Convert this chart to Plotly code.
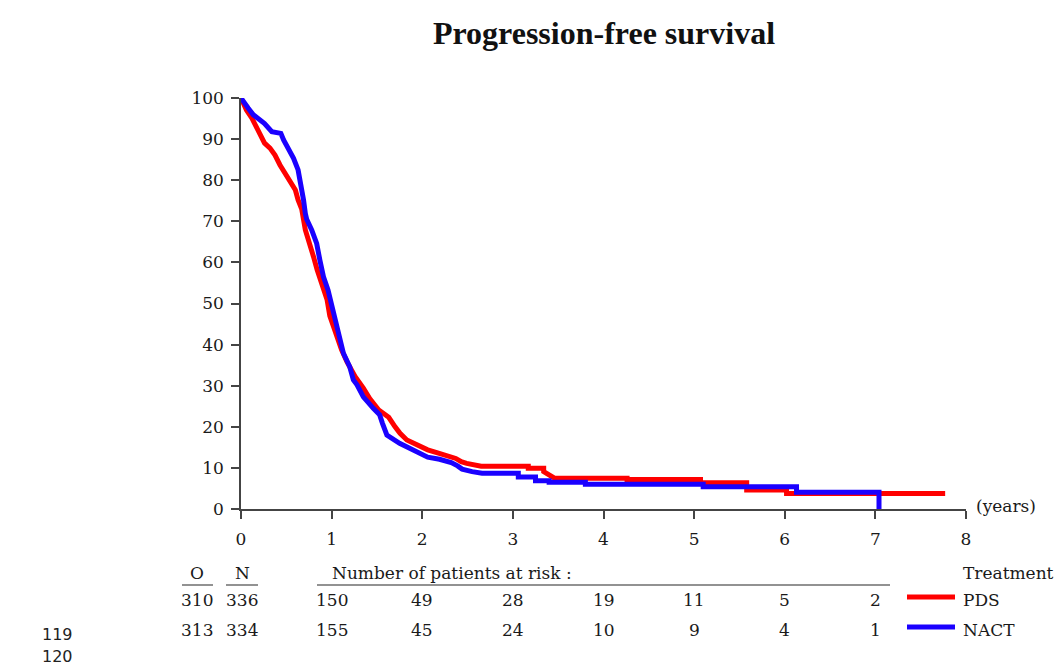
import plotly.graph_objects as go

# Survival curves as polyline vertices: time in years, % progression-free.
# Dense early drops are traced point by point; later plateaus keep both corners.
pds_time = [0, 0.03, 0.06, 0.12, 0.17, 0.21, 0.26, 0.32, 0.375, 0.43, 0.485, 0.54,
            0.60, 0.63, 0.67, 0.71, 0.76, 0.80, 0.84, 0.89, 0.95, 0.98, 1.02, 1.06,
            1.11, 1.17, 1.26, 1.35, 1.42, 1.52, 1.58, 1.63, 1.70, 1.755, 1.83, 1.94,
            2.06, 2.16, 2.26, 2.37, 2.43, 2.49, 2.65, 3.17, 3.17, 3.34, 3.34, 3.38,
            3.42, 3.46, 4.26, 4.26, 5.07, 5.07, 5.58, 5.58, 6.02, 6.02, 7.77]
pds_surv = [100, 98.5, 97.1, 95.1, 93.0, 91.0, 89.0, 87.8, 86.1, 83.7, 81.7, 80.0,
            77.6, 75.2, 73.0, 67.9, 64.6, 61.4, 58.2, 54.9, 50.9, 47.0, 44.4, 41.1,
            38.7, 35.8, 32.2, 29.4, 26.9, 24.1, 23.0, 22.3, 20.0, 18.4, 16.8, 15.6,
            14.4, 13.7, 13.1, 12.3, 11.5, 11.1, 10.4, 10.4, 9.9, 9.9, 9.1, 8.5,
            7.8, 7.5, 7.5, 7.2, 7.2, 6.4, 6.4, 4.6, 4.6, 3.8, 3.8]

nact_time = [0, 0.04, 0.08, 0.136, 0.19, 0.26, 0.34, 0.44, 0.47, 0.52, 0.58, 0.63,
             0.67, 0.69, 0.71, 0.725, 0.78, 0.835, 0.87, 0.91, 0.96, 1.02, 1.06, 1.09,
             1.13, 1.20, 1.24, 1.28, 1.35, 1.46, 1.53, 1.56, 1.59, 1.61, 1.75, 1.865,
             1.99, 2.06, 2.19, 2.32, 2.39, 2.44, 2.55, 2.66, 3.06, 3.06, 3.25, 3.25,
             3.40, 3.40, 3.80, 3.80, 5.10, 5.10, 6.13, 6.13, 7.04, 7.04]
nact_surv = [100, 98.5, 97.5, 95.9, 95.1, 93.8, 91.8, 91.4, 89.8, 87.8, 85.3, 82.5,
             78.4, 75.2, 71.9, 70.5, 67.9, 64.6, 60.6, 56.5, 53.3, 47.6, 43.6, 41.9,
             37.9, 34.6, 31.4, 30.2, 27.3, 24.5, 22.9, 20.9, 19.5, 18.0, 16.0, 14.8,
             13.4, 12.6, 12.1, 11.3, 10.5, 9.7, 9.1, 8.7, 8.7, 7.8, 7.8, 6.9,
             6.9, 6.5, 6.5, 6.0, 6.0, 5.4, 5.4, 4.05, 4.05, 0]

# Risk table
groups = ["PDS", "NACT"]
colors = ["#ff0000", "#1a00ff"]
observed = [310, 313]
totals = [336, 334]
risk_years = [1, 2, 3, 4, 5, 6, 7]
at_risk = [
    [150, 49, 28, 19, 11, 5, 2],
    [155, 45, 24, 10, 9, 4, 1],
]

x_ticks = list(range(0, 9))
y_ticks = list(range(0, 101, 10))

SERIF = "DejaVu Serif"
TXT = "#1a1a1a"
FS = 17

fig = go.Figure()
for t, s, name, c in [(pds_time, pds_surv, groups[0], colors[0]),
                      (nact_time, nact_surv, groups[1], colors[1])]:
    fig.add_trace(go.Scatter(
        x=t, y=s, mode="lines", name=name,
        line=dict(color=c, width=5),
        cliponaxis=False, showlegend=False,
    ))

# plot area: x 241..966 px, y 98..509 px
L, R, T, B = 241, 89, 98, 157
H = 666 - T - B
W = 1055 - L - R


def py(px):
    """pixel row -> paper y"""
    return (666 - B - px) / H


def px_(p):
    """pixel column -> paper x"""
    return (p - L) / W


ann = []
shapes = []

# header row
ann.append(dict(x=px_(197), y=py(573), text="O"))
ann.append(dict(x=px_(242), y=py(573), text="N"))
ann.append(dict(x=px_(330), y=py(573), text="Number of patients at risk :", xanchor="left"))
ann.append(dict(x=px_(961), y=py(573), text="Treatment", xanchor="left"))
for x0, x1 in [(182, 213), (226, 258), (317, 890)]:
    shapes.append(dict(type="line", xref="paper", yref="paper",
                       x0=px_(x0), x1=px_(x1), y0=py(585), y1=py(585),
                       line=dict(color="#6e6e6e", width=1.5)))

row_px = [600, 630]
for i in range(2):
    yy = py(row_px[i])
    ann.append(dict(x=px_(197), y=yy, text=str(observed[i])))
    ann.append(dict(x=px_(242), y=yy, text=str(totals[i])))
    for yr, n in zip(risk_years, at_risk[i]):
        ann.append(dict(x=yr / 8, y=yy, text=str(n)))
    ann.append(dict(x=px_(961), y=yy, text=groups[i], xanchor="left"))
    shapes.append(dict(type="line", xref="paper", yref="paper",
                       x0=px_(907), x1=px_(955), y0=py(row_px[i] - 3), y1=py(row_px[i] - 3),
                       line=dict(color=colors[i], width=5)))

ann.append(dict(x=px_(974), y=py(506), text="(years)", xanchor="left"))

for a in ann:
    a.setdefault("xanchor", "center")
    a.update(xref="paper", yref="paper", yanchor="middle", showarrow=False,
             font=dict(family=SERIF, size=FS, color=TXT))

# page line numbers at the lower left
for num, ypix in [("119", 634), ("120", 656)]:
    ann.append(dict(x=px_(58), y=py(ypix), text=num, xref="paper", yref="paper",
                    xanchor="center", yanchor="middle", showarrow=False,
                    font=dict(family="DejaVu Sans", size=16, color="#222")))

fig.update_layout(
    width=1055, height=666,
    margin=dict(l=L, r=R, t=T, b=B, pad=0),
    paper_bgcolor="white", plot_bgcolor="white",
    title=dict(text="<b>Progression-free survival</b>", x=604 / 1055, xref="container",
               xanchor="center", y=1 - 33 / 666, yref="container", yanchor="middle",
               font=dict(family="Liberation Serif", size=32, color="#111")),
    annotations=ann, shapes=shapes,
    xaxis=dict(range=[0, 8], tickvals=x_ticks, showgrid=False, zeroline=False,
               showline=True, linecolor="#444", linewidth=1.5,
               ticks="outside", ticklen=8, tickwidth=1.5, tickcolor="#444",
               ticklabelstandoff=6,
               tickfont=dict(family=SERIF, size=FS, color=TXT), fixedrange=True),
    yaxis=dict(range=[0, 100], tickvals=y_ticks, showgrid=False, zeroline=False,
               showline=True, linecolor="#444", linewidth=1.5,
               ticks="outside", ticklen=8, tickwidth=1.5, tickcolor="#444",
               ticklabelstandoff=4,
               tickfont=dict(family=SERIF, size=FS, color=TXT), fixedrange=True),
)

fig.write_html("out.html")
